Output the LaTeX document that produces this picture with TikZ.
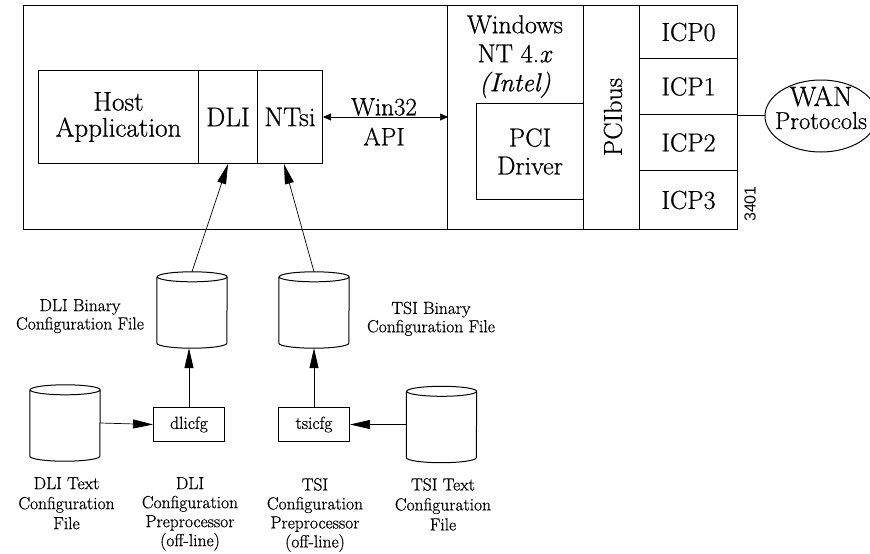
\documentclass[tikz,border=0pt]{standalone}
\usepackage{fontspec}
\setmainfont{Latin Modern Roman}[FakeBold=0.7]
\newfontfamily\numfont{Liberation Sans}
\usetikzlibrary{arrows.meta,shapes.geometric}
\begin{document}
\begin{tikzpicture}[x=1pt,y=-1pt,
  box/.style={draw,line width=1pt,inner sep=0pt,anchor=north west,align=center},
  big/.style={font=\fontsize{27}{26}\selectfont},
  mid/.style={font=\fontsize{26}{28}\selectfont},
  lbl/.style={font=\fontsize{17.5}{19.5}\selectfont,align=center,inner sep=0pt,anchor=north},
  conn/.style={line width=0.7pt},
  arr/.style={conn,-{Triangle[length=20pt,width=9pt]}},
  cyl/.style={inner sep=0pt,minimum width=70pt,minimum height=76pt}]
\clip (0,0) rectangle (870,554);
\fill[white] (0,0) rectangle (870,554);
% host side
\node[box,minimum width=424pt,minimum height=224pt] (hostside) at (23,5) {};
\node[box,big,minimum width=160pt,minimum height=93pt] (host) at (38,70) {Host\\Application};
\node[box,big,minimum width=59pt,minimum height=93pt] (dli) at (198,70) {DLI};
\node[box,big,minimum width=65pt,minimum height=93pt] (ntsi) at (257,70) {NTsi};
\draw[conn,{Triangle[length=8pt,width=7pt]}-{Triangle[length=8pt,width=7pt]}] (ntsi.east) -- (ntsi.east -| hostside.east);
\node[font=\fontsize{25}{30}\selectfont,align=center,inner sep=0pt,anchor=north] (api) at (384,98) {Win32\\API};
% windows / pci side
\node[box,minimum width=136pt,minimum height=224pt] (win) at (447,5) {};
\node[font=\fontsize{26}{29}\selectfont,align=center,inner sep=0pt,anchor=north] (wintext) at (515,15) {Windows\\NT 4.\textit{x}\\\textit{(Intel)}};
\node[box,mid,minimum width=107pt,minimum height=96pt] (pcidrv) at (476,103) {PCI\\Driver};
\node[box,minimum width=56pt,minimum height=224pt] (pcibus) at (583,5) {};
\node[font=\fontsize{26}{28}\selectfont,rotate=90,inner sep=0pt] (pcibustext) at (613,117) {PCIbus};
\node[box,mid,minimum width=98pt,minimum height=53pt] (icp0) at (639,5) {ICP0};
\node[box,mid,minimum width=98pt,minimum height=56pt] (icp1) at (639,58) {ICP1};
\node[box,mid,minimum width=98pt,minimum height=56pt] (icp2) at (639,114) {ICP2};
\node[box,mid,minimum width=98pt,minimum height=59pt] (icp3) at (639,170) {ICP3};
\node[draw,ellipse,line width=1pt,minimum width=112pt,minimum height=72pt,inner sep=0pt] (wan) at (821,116) {};
\node[font=\fontsize{28}{28}\selectfont,inner sep=0pt,anchor=base] (wantext) at (821,106) {WAN};
\node[font=\fontsize{24.5}{24.5}\selectfont,inner sep=0pt,anchor=base] (prottext) at (821,129) {Protocols};
\draw[conn] (icp1.south east) -- (icp1.south east -| wan.west);
\node[font=\numfont\fontsize{16}{16}\selectfont,rotate=90,inner sep=0pt] (fignum) at (750,204) {3401};
% cylinders
\node[cyl] (dlibin) at (192,310) {};
\node[cyl] (tsibin) at (314,310) {};
\node[cyl] (dlitxt) at (65,423) {};
\node[cyl] (tsitxt) at (441.5,424.5) {};
\foreach \c in {dlibin,tsibin,dlitxt,tsitxt}
  \draw[line width=1pt] ([yshift=-5pt]\c.north west) -- ([yshift=5pt]\c.south west)
    arc[start angle=180,end angle=360,x radius=35pt,y radius=5pt]
    -- ([yshift=-5pt]\c.north east)
    arc[start angle=0,end angle=360,x radius=35pt,y radius=5pt];
% preprocessors
\node[box,font=\fontsize{17.5}{19.5}\selectfont,minimum width=71pt,minimum height=34pt] (dlicfg) at (153,407) {dlicfg};
\node[box,font=\fontsize{17.5}{19.5}\selectfont,minimum width=71pt,minimum height=34pt] (tsicfg) at (278,407) {tsicfg};
% connectors
\draw[arr] (dlibin.north) -- (dli.south);
\draw[arr] (tsibin.north) -- ([xshift=-6pt]ntsi.south);
\draw[arr] (dlicfg.north) -- (dlicfg.north |- dlibin.south);
\draw[arr] (tsicfg.north) -- (tsicfg.north |- tsibin.south);
\draw[arr] (dlitxt.east) -- (dlicfg.west);
\draw[arr] (tsitxt.west) -- (tsicfg.east);
% labels
\node[lbl,font=\fontsize{17.5}{18.3}\selectfont] (dlibinlbl) at (80,299) {DLI Binary\\Configuration File};
\node[lbl,font=\fontsize{17.5}{18.3}\selectfont] (tsibinlbl) at (431,301.5) {TSI Binary\\Configuration File};
\node[lbl,font=\fontsize{17.5}{20}\selectfont] (dlitxtlbl) at (66.5,477) {DLI Text\\Configuration\\File};
\node[lbl,font=\fontsize{17.5}{19}\selectfont] (dlipplbl) at (190,477) {DLI\\Configuration\\Preprocessor\\(off-line)};
\node[lbl,font=\fontsize{17.5}{19}\selectfont] (tsipplbl) at (315,478) {TSI\\Configuration\\Preprocessor\\(off-line)};
\node[lbl,font=\fontsize{17.5}{20}\selectfont] (tsitxtlbl) at (443,478) {TSI Text\\Configuration\\File};
\end{tikzpicture}
\end{document}
